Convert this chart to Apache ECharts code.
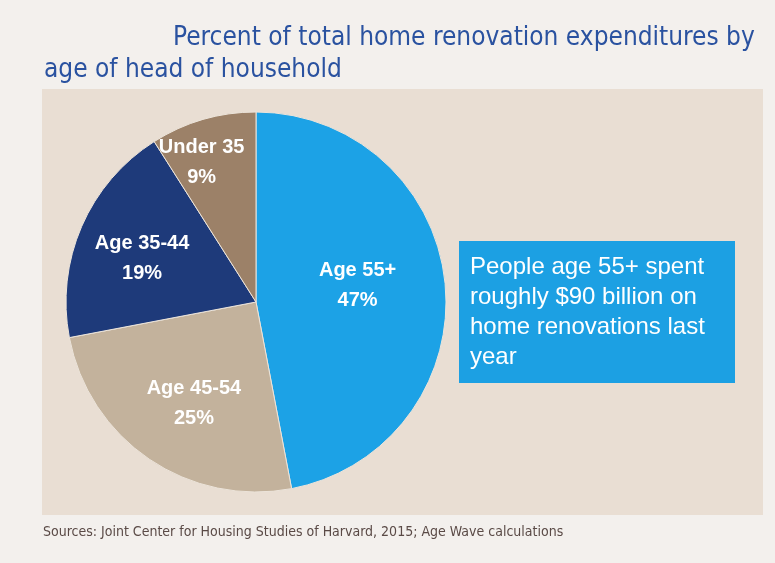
<!DOCTYPE html>
<html>
<head>
<meta charset="utf-8">
<title>Home renovation expenditures by age</title>
<script src="https://cdn.jsdelivr.net/npm/echarts@6/dist/echarts.min.js"></script>
<style>
  html, body { margin: 0; padding: 0; background: #f3f0ed; }
  #chart { width: 775px; height: 563px; }
</style>
</head>
<body>
<div id="chart"></div>
<script>
// share of renovation spending by age of head of household (%)
const categories = ['Age 55+', 'Age 45-54', 'Age 35-44', 'Under 35'];
const shares = [47, 25, 19, 9];
const sliceColors = ['#1ca2e6', '#c3b29c', '#1e3a7a', '#9c8168'];

const titleLines = ['Percent of total home renovation expenditures by', 'age of head of household'];
const calloutLines = ['People age 55+ spent', 'roughly $90 billion on', 'home renovations last', 'year'];
const sourceNote = 'Sources: Joint Center for Housing Studies of Harvard, 2015; Age Wave calculations';

// nudges so the labels sit where the original put them
const labelNudge = [[4, -7], [-7, 20], [-24, -5], [-27, -45]];

const chart = echarts.init(document.getElementById('chart'));

const titleFont = { color: '#2a52a0', fontFamily: 'DejaVu Sans Condensed', fontSize: 26, fontWeight: 'normal' };

const option = {
  backgroundColor: '#f3f0ed',
  animation: false,
  title: [
    { text: titleLines[0], left: 173, top: 25, padding: 0, textStyle: titleFont },
    { text: titleLines[1], left: 44, top: 57, padding: 0, textStyle: titleFont }
  ],
  graphic: [
    {
      type: 'rect', z: -10,
      shape: { x: 42, y: 89, width: 721, height: 426 },
      style: { fill: '#e9ded3' }
    },
    {
      type: 'rect',
      shape: { x: 459, y: 241, width: 276, height: 142 },
      style: { fill: '#1ca0e3' }
    },
    {
      type: 'text',
      left: 470, top: 252,
      style: {
        text: calloutLines.join('\n'),
        fill: '#ffffff',
        fontFamily: 'Liberation Sans',
        fontSize: 24,
        lineHeight: 30
      }
    },
    {
      type: 'text',
      left: 43, top: 525,
      style: {
        text: sourceNote,
        fill: '#5a4a46',
        fontFamily: 'DejaVu Sans Condensed',
        fontSize: 14
      }
    }
  ],
  series: [
    {
      type: 'pie',
      center: [256, 302],
      radius: 190,
      startAngle: 90,
      clockwise: true,
      label: {
        position: 'inside',
        formatter: '{b}\n{c}%',
        color: '#ffffff',
        fontFamily: 'Liberation Sans',
        fontWeight: 'bold',
        fontSize: 20,
        lineHeight: 30
      },
      labelLine: { show: false },
      labelLayout: function (params) {
        const n = labelNudge[params.dataIndex] || [0, 0];
        return { dx: n[0], dy: n[1] };
      },
      itemStyle: { borderColor: '#ece4da', borderWidth: 1 },
      emphasis: { disabled: true },
      data: categories.map(function (name, i) {
        return { name: name, value: shares[i], itemStyle: { color: sliceColors[i] } };
      })
    }
  ]
};

chart.setOption(option);
</script>
</body>
</html>
